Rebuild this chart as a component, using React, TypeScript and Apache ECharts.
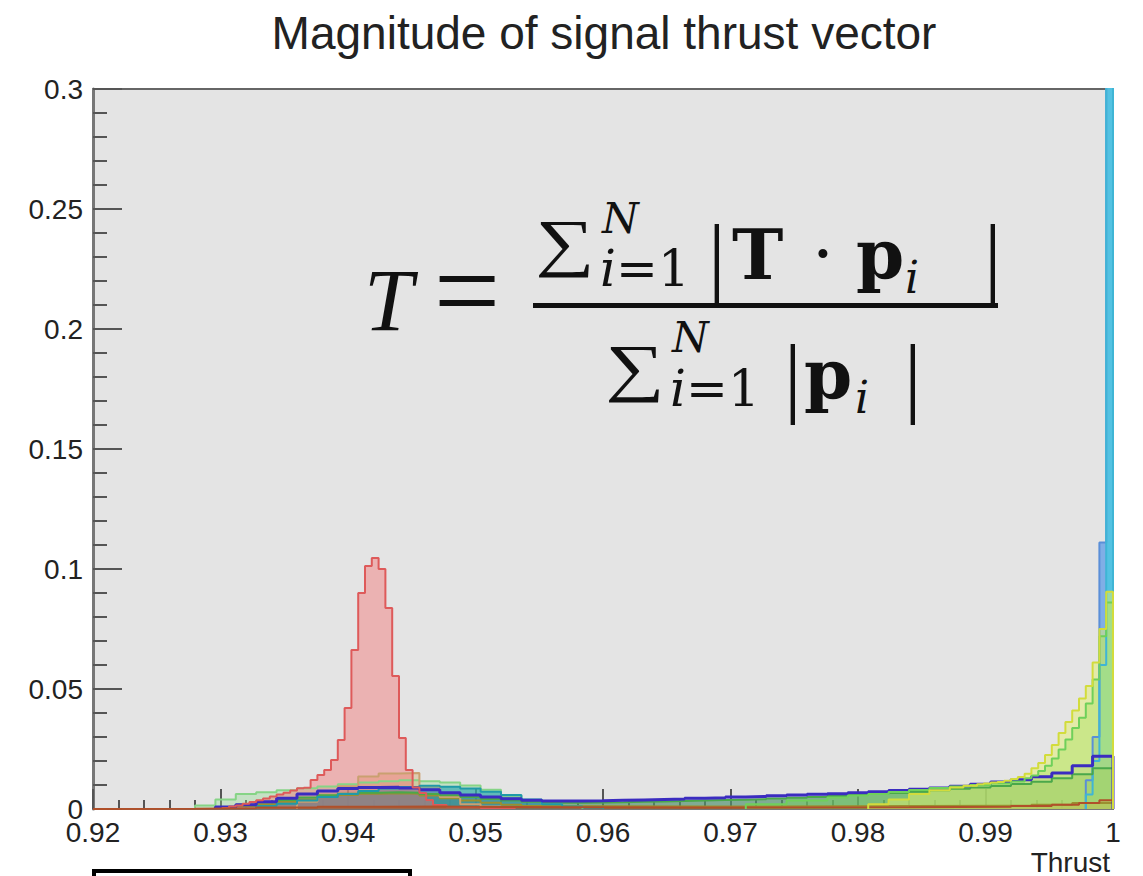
import React, { useEffect, useRef } from "react";
import * as echarts from "echarts";

// Histogram binning (150 bins between 0.92 and 1.0)
const BIN_LOW = 0.92;
const BIN_HIGH = 1.0;
const N_BINS = 150;

// Axis ticks
const X_MIN = 0.92;
const X_MAX = 1.0;
const X_STEP = 0.01;
const Y_MIN = 0;
const Y_MAX = 0.3;
const Y_STEP = 0.05;

// Each histogram: [bin index (lower edge), normalised content]
const blueHist = [[146,0.012],[147,0.03],[148,0.111],[149,0.34],[150,0]];
const cyanHist = [[146,0.006],[147,0.02],[148,0.06],[149,0.36],[150,0]];
const lightGreenHist = [[15,0.0015],[18,0.004],[21,0.0062],[24,0.007],[27,0.0078],[30,0.0086],[33,0.0094],[36,0.0103],[39,0.011],[42,0.0116],[45,0.012],[48,0.0116],[51,0.011],[54,0.0098],[57,0.008],[60,0.0055],[63,0.0035],[66,0.002],[69,0.0012],[72,0]];
const oliveHist = [[18,0.0005],[21,0.0012],[24,0.002],[27,0.003],[30,0.004],[33,0.005],[36,0.0058],[39,0.0064],[42,0.0066],[45,0.0064],[48,0.0056],[51,0.0045],[54,0.0035],[57,0.0026],[60,0.0018],[63,0.0012],[66,0.001],[90,0.0012],[120,0.0014],[138,0.0018],[144,0.0025],[150,0]];
const tanHist = [[30,0.003],[33,0.006],[36,0.0095],[39,0.0135],[42,0.0148],[45,0.015],[48,0.0095],[51,0.005],[54,0.002],[57,0.001],[60,0]];
const greenHist = [[18,0.0008],[21,0.0018],[24,0.0028],[27,0.0038],[30,0.0048],[33,0.0057],[36,0.0064],[39,0.0068],[42,0.007],[45,0.0068],[48,0.0063],[51,0.0057],[54,0.005],[57,0.0042],[60,0.0035],[63,0.003],[66,0.0026],[69,0.0026],[72,0.0027],[75,0.0028],[78,0.003],[81,0.0031],[84,0.0033],[87,0.0035],[90,0.0037],[93,0.0039],[96,0.0041],[99,0.0044],[102,0.0047],[105,0.005],[108,0.0054],[111,0.0058],[114,0.0062],[117,0.0067],[120,0.0072],[123,0.0078],[126,0.0084],[129,0.009],[132,0.0096],[135,0.0104],[138,0.0114],[141,0.0128],[144,0.0145],[147,0.017],[150,0]];
const tealHist = [[24,0.0012],[27,0.0022],[30,0.0035],[33,0.005],[36,0.0063],[39,0.0075],[42,0.0085],[45,0.0092],[48,0.0097],[51,0.0093],[54,0.0085],[57,0.0072],[60,0.0058],[63,0.004],[66,0.002],[69,0.001],[72,0.0006],[75,0]];
const purpleHist = [[18,0.0008],[21,0.0018],[24,0.003],[27,0.0045],[30,0.0062],[33,0.0075],[36,0.0085],[39,0.009],[42,0.0091],[45,0.0088],[48,0.008],[51,0.0068],[54,0.0058],[57,0.005],[60,0.0043],[63,0.0036],[66,0.0033],[69,0.0033],[72,0.0034],[75,0.0036],[78,0.0038],[81,0.004],[84,0.0042],[87,0.0045],[90,0.0047],[93,0.005],[96,0.0052],[99,0.0055],[102,0.0058],[105,0.0061],[108,0.0064],[111,0.0068],[114,0.0072],[117,0.0077],[120,0.0082],[123,0.0088],[126,0.0095],[129,0.0103],[132,0.0112],[135,0.0122],[138,0.0134],[141,0.015],[144,0.018],[147,0.022],[150,0]];
const redHist = [[19,0.0004],[20,0.001],[21,0.0015],[22,0.0022],[23,0.0029],[24,0.0036],[25,0.0044],[26,0.0052],[27,0.006],[28,0.0068],[29,0.0077],[30,0.0086],[31,0.0089],[32,0.0121],[33,0.0142],[34,0.0163],[35,0.0204],[36,0.0288],[37,0.0421],[38,0.0663],[39,0.09],[40,0.1013],[41,0.1046],[42,0.1],[43,0.0838],[44,0.0554],[45,0.0296],[46,0.0163],[47,0.009],[48,0.0067],[49,0.0038],[50,0.0017],[52,0.0008],[57,0.0004],[62,0]];
const brownHist = [[0,0.0001],[15,0.0003],[24,0.0006],[33,0.0009],[42,0.001],[51,0.0008],[60,0.0006],[90,0.0007],[120,0.0009],[135,0.0013],[141,0.0018],[145,0.0025],[148,0.0036],[150,0]];
const limeHist = [[96,0.002],[102,0.0035],[108,0.0048],[111,0.0056],[114,0.0063],[117,0.0071],[120,0.0079],[123,0.0087],[126,0.0094],[129,0.01],[132,0.0106],[135,0.0115],[137,0.0128],[138,0.014],[139,0.0158],[140,0.018],[141,0.021],[142,0.0248],[143,0.029],[144,0.0338],[145,0.038],[146,0.044],[147,0.054],[148,0.072],[149,0.086],[150,0]];
const yellowHist = [[114,0.002],[117,0.004],[120,0.0062],[123,0.0078],[126,0.009],[128,0.0097],[130,0.0103],[131,0.0106],[132,0.011],[133,0.0113],[134,0.0118],[135,0.0125],[136,0.0133],[137,0.0147],[138,0.017],[139,0.0192],[140,0.0225],[141,0.0267],[142,0.0317],[143,0.0362],[144,0.041],[145,0.046],[146,0.0512],[147,0.061],[148,0.075],[149,0.0905],[150,0]];

const SERIES = [
  { name: "blue", hist: blueHist, line: "#5a8fd8", fill: "rgba(110,165,230,0.85)", width: 2 },
  { name: "cyan", hist: cyanHist, line: "#3fb5d5", fill: "rgba(80,195,225,0.95)", width: 2 },
  { name: "lightgreen", hist: lightGreenHist, line: "#86d486", fill: "rgba(140,220,140,0.35)", width: 2 },
  { name: "olive", hist: oliveHist, line: "#9a8f30", fill: "rgba(160,145,50,0.5)", width: 2 },
  { name: "tan", hist: tanHist, line: "#caa070", fill: "rgba(215,175,120,0.45)", width: 2 },
  { name: "green", hist: greenHist, line: "#4aa84a", fill: "rgba(80,175,80,0.6)", width: 2 },
  { name: "teal", hist: tealHist, line: "#1f9aa8", fill: "rgba(30,160,175,0.6)", width: 2 },
  { name: "purple", hist: purpleHist, line: "#3b2cc0", fill: "rgba(80,60,190,0.18)", width: 3 },
  { name: "red", hist: redHist, line: "#de5a5a", fill: "rgba(245,110,110,0.42)", width: 2 },
  { name: "brown", hist: brownHist, line: "#b0502a", fill: "rgba(170,90,40,0.6)", width: 2 },
  { name: "lime", hist: limeHist, line: "#6fd05a", fill: "rgba(120,215,90,0.45)", width: 2 },
  { name: "yellow", hist: yellowHist, line: "#d2dc3c", fill: "rgba(228,240,110,0.5)", width: 2 },
];

const BIN_W = (BIN_HIGH - BIN_LOW) / N_BINS;

function toSteps(hist: number[][]) {
  const pts: number[][] = [[BIN_LOW + hist[0][0] * BIN_W, 0]];
  for (const [k, v] of hist) pts.push([BIN_LOW + k * BIN_W, v]);
  return pts;
}

const LSERIF = "'Liberation Serif', serif";
const DSERIF = "'DejaVu Serif', serif";
const SANS = "'Liberation Sans', Arial, sans-serif";
const INK = "#111";

function txt(x: number, y: number, text: string, size: number, opts: any = {}) {
  return {
    type: "text",
    x,
    y,
    z: 100,
    scaleX: opts.scaleX || 1,
    style: {
      text,
      fontFamily: opts.family || DSERIF,
      fontSize: size,
      fontStyle: opts.italic ? "italic" : "normal",
      fontWeight: opts.bold ? "bold" : "normal",
      fill: INK,
      align: opts.align || "left",
      verticalAlign: "middle",
      rich: opts.rich,
    },
  };
}

export default function App() {
  const ref = useRef<HTMLDivElement>(null);
  useEffect(() => {
    document.body.style.margin = "0";
    const chart = echarts.init(ref.current!, undefined, { renderer: "svg" });
    const axisFont = { color: "#222", fontSize: 28, fontFamily: SANS };
    const rich = { it: { fontStyle: "italic", fontFamily: DSERIF, fontSize: 50, fill: INK } };
    const option: any = {
      animation: false,
      backgroundColor: "#ffffff",
      grid: {
        left: 93, right: 30, top: 89, bottom: 67,
        show: true, backgroundColor: "#e4e4e4", borderColor: "#666", borderWidth: 2,
      },
      xAxis: {
        type: "value", min: X_MIN, max: X_MAX, interval: X_STEP,
        axisLine: { show: true, lineStyle: { color: "#777", width: 2 } },
        axisTick: { show: true, inside: true, length: 20, lineStyle: { color: "#555", width: 2 } },
        minorTick: { show: true, splitNumber: 5, length: 9, lineStyle: { color: "#555", width: 2 } },
        axisLabel: { ...axisFont, margin: 9, showMinLabel: true, showMaxLabel: true },
        splitLine: { show: false },
      },
      yAxis: {
        type: "value", min: Y_MIN, max: Y_MAX, interval: Y_STEP,
        axisLine: { show: true, lineStyle: { color: "#777", width: 3 } },
        axisTick: { show: true, inside: true, length: 29, lineStyle: { color: "#555", width: 2 } },
        minorTick: { show: true, splitNumber: 5, length: 14, lineStyle: { color: "#555", width: 2 } },
        axisLabel: { ...axisFont, margin: 10, showMinLabel: true, showMaxLabel: true },
        splitLine: { show: false },
      },
      series: SERIES.map((s) => ({
        name: s.name,
        type: "line",
        step: "end",
        symbol: "none",
        silent: true,
        clip: true,
        data: toSteps(s.hist),
        lineStyle: { color: s.line, width: s.width },
        areaStyle: { color: s.fill, opacity: 1 },
      })),
      graphic: [
        {
          type: "text", x: 604, y: 33, z: 100,
          style: { text: "Magnitude of signal thrust vector", fontFamily: SANS, fontSize: 46, fill: "#222", align: "center", verticalAlign: "middle" },
        },
        {
          type: "text", x: 1110, y: 862, z: 100,
          style: { text: "Thrust", fontFamily: SANS, fontSize: 28, fill: "#222", align: "right", verticalAlign: "middle" },
        },
        {
          type: "rect", z: 100,
          shape: { x: 94, y: 871, width: 316, height: 40 },
          style: { fill: "#fff", stroke: "#000", lineWidth: 4 },
        },
        // formula
        txt(364, 300, "T", 88, { italic: true, family: LSERIF }),
        txt(467, 291, "=", 118, { align: "center", family: LSERIF }),
        { type: "rect", z: 100, shape: { x: 533, y: 303, width: 465, height: 5 }, style: { fill: INK } },
        // numerator
        txt(565, 242, "\u2211", 64, { align: "center", family: LSERIF, scaleX: 1.3 }),
        txt(602, 218, "N", 42, { italic: true }),
        txt(600, 269, "{it|i}=1", 50, { rich }),
        txt(708, 256, "|", 88, { family: LSERIF }),
        txt(732, 254, "T", 69, { bold: true }),
        txt(812, 254, "\u00b7", 69),
        txt(856, 254, "p", 69, { bold: true }),
        txt(905, 277, "i", 44, { italic: true }),
        txt(984, 256, "|", 88, { family: LSERIF }),
        // denominator
        txt(635, 367, "\u2211", 64, { align: "center", family: LSERIF, scaleX: 1.3 }),
        txt(672, 337, "N", 42, { italic: true }),
        txt(670, 389, "{it|i}=1", 50, { rich }),
        txt(784, 376, "|", 88, { family: LSERIF }),
        txt(804, 374, "p", 69, { bold: true }),
        txt(855, 397, "i", 44, { italic: true }),
        txt(904, 376, "|", 88, { family: LSERIF }),
      ],
    };
    chart.setOption(option);
    return () => chart.dispose();
  }, []);
  return <div ref={ref} style={{ width: 1143, height: 876, overflow: "hidden" }} />;
}
